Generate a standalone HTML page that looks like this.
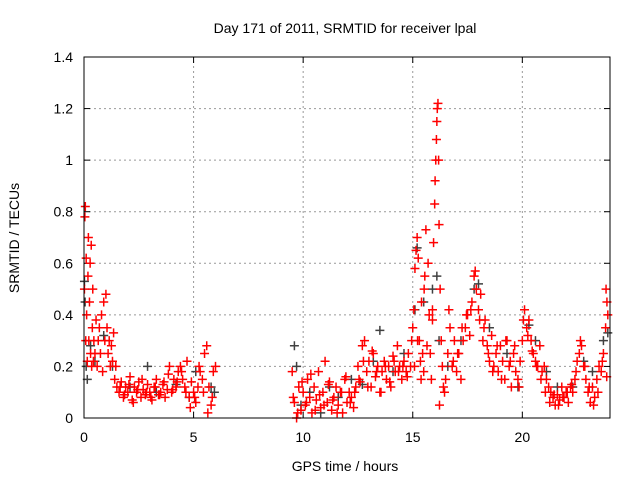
<!DOCTYPE html>
<html><head><meta charset="utf-8">
<style>
html,body{margin:0;padding:0;background:#fff;}
svg{display:block;font-family:"Liberation Sans",sans-serif;}
</style></head>
<body>
<svg id="chart" width="640" height="480">
<rect width="640" height="480" fill="#fff"/>
<text x="345" y="33" font-size="14" text-anchor="middle">Day 171 of 2011, SRMTID for receiver lpal</text>
<text x="345" y="471" font-size="14" text-anchor="middle">GPS time / hours</text>
<text transform="translate(19,238) rotate(-90)" font-size="14" text-anchor="middle">SRMTID / TECUs</text>
<g id="grid"></g>
<g id="ticks"></g>
<g id="marks"></g>
<rect x="84" y="57" width="526" height="361" fill="none" stroke="#000" stroke-width="1"/>
</svg>
<script>
const xTicks=[0,5,10,15,20];
const yTicks=[0,0.2,0.4,0.6,0.8,1,1.2,1.4];
const yTickLabels=["0","0.2","0.4","0.6","0.8","1","1.2","1.4"];
const grayT=[0.02,0.05,0.1,0.15,0.3,0.5,0.9,1.3,2.1,2.9,3.3,4.2,4.8,5.1,5.8,5.95,9.6,9.7,9.9,10.3,10.8,11.2,11.6,12.2,12.7,13.2,13.5,14.1,14.6,15.1,15.2,15.5,15.9,16.1,16.2,16.6,17.2,17.8,18.0,18.5,19.3,19.8,20.3,20.6,21.1,21.6,22.3,22.8,23.2,23.7,23.9];
const grayV=[0.53,0.45,0.2,0.15,0.28,0.22,0.32,0.2,0.12,0.2,0.1,0.13,0.08,0.18,0.12,0.1,0.28,0.2,0.05,0.1,0.02,0.12,0.08,0.15,0.13,0.22,0.34,0.18,0.25,0.42,0.66,0.45,0.5,0.55,0.3,0.2,0.3,0.5,0.52,0.35,0.25,0.12,0.36,0.3,0.18,0.12,0.12,0.22,0.18,0.3,0.33];
const redT=[0.02,0.04,0.06,0.08,0.1,0.12,0.15,0.18,0.2,0.22,0.25,0.28,0.3,0.33,0.35,0.38,0.4,0.43,0.45,0.5,0.55,0.6,0.65,0.7,0.75,0.8,0.85,0.9,0.95,1.0,1.05,1.1,1.15,1.2,1.25,1.3,1.35,1.4,1.45,1.5,
1.6,1.7,1.8,1.9,2.0,2.1,2.2,2.3,2.4,2.5,2.6,2.7,2.8,2.9,3.0,3.1,3.2,3.3,3.4,3.5,3.6,3.7,3.8,3.9,4.0,4.1,4.2,4.3,4.4,4.5,4.6,4.7,4.8,4.9,5.0,5.1,5.2,5.3,5.4,5.5,5.6,5.7,5.8,5.9,6.0,
1.65,1.85,2.05,2.25,2.45,2.65,2.85,3.05,3.25,3.45,3.65,3.85,4.05,4.25,4.45,4.65,4.85,5.05,5.25,5.45,5.65,5.85,
9.5,9.6,9.7,9.8,9.9,10.0,10.1,10.2,10.3,10.4,10.5,10.6,10.7,10.8,10.9,11.0,11.1,11.2,11.3,11.4,11.5,11.6,11.7,11.8,11.9,12.0,12.1,12.2,12.3,12.4,
9.55,9.75,9.95,10.15,10.35,10.55,10.75,10.95,11.15,11.35,11.55,11.75,11.95,12.15,12.35,
12.5,12.6,12.7,12.8,12.9,13.0,13.1,13.2,13.3,13.4,13.5,13.6,13.7,13.8,13.9,14.0,14.1,14.2,14.3,14.4,14.5,14.6,14.7,14.8,14.9,
12.55,12.75,12.95,13.15,13.35,13.55,13.75,13.95,14.15,14.35,14.55,14.75,14.95,
15.0,15.05,15.1,15.15,15.2,15.25,15.3,15.35,15.4,15.45,15.5,15.55,15.6,15.7,15.75,15.8,15.85,15.9,15.95,16.0,16.02,16.05,16.08,16.1,16.12,16.15,16.18,16.2,16.25,16.3,16.35,16.4,16.5,16.6,16.7,16.8,16.9,
15.08,15.22,15.38,15.52,15.65,15.9,16.22,16.45,16.65,16.85,
17.0,17.1,17.2,17.3,17.4,17.5,17.6,17.7,17.8,17.9,18.0,18.1,18.2,18.3,18.4,18.5,18.6,18.7,18.8,18.9,19.0,19.1,19.2,19.3,19.4,19.5,19.6,19.7,19.8,19.9,
17.05,17.25,17.45,17.65,17.85,18.05,18.25,18.45,18.65,18.85,19.05,19.25,19.45,19.65,19.85,
20.0,20.1,20.2,20.3,20.4,20.5,20.6,20.7,20.8,20.9,21.0,21.1,21.2,21.3,21.4,21.5,21.6,21.7,21.8,21.9,22.0,22.1,22.2,22.3,22.4,22.5,22.6,22.7,22.8,22.9,23.0,23.1,23.2,23.3,23.4,23.5,23.6,23.7,23.8,23.9,
20.05,20.25,20.45,20.65,20.85,21.05,21.25,21.45,21.65,21.85,22.05,22.25,22.45,22.65,22.85,23.05,23.25,23.45,23.65,23.85,23.82,23.86];
const redV=[0.5,0.78,0.82,0.3,0.62,0.4,0.22,0.55,0.7,0.3,0.45,0.6,0.25,0.67,0.2,0.35,0.5,0.22,0.3,0.25,0.38,0.2,0.3,0.35,0.25,0.4,0.18,0.45,0.3,0.48,0.35,0.25,0.3,0.2,0.28,0.22,0.33,0.15,0.2,0.12,
0.1,0.14,0.08,0.12,0.1,0.16,0.07,0.12,0.1,0.14,0.08,0.11,0.09,0.13,0.1,0.07,0.12,0.15,0.09,0.1,0.13,0.08,0.11,0.2,0.1,0.15,0.12,0.18,0.2,0.15,0.12,0.22,0.08,0.14,0.1,0.06,0.12,0.18,0.15,0.25,0.28,0.12,0.05,0.18,0.2,
0.12,0.09,0.13,0.06,0.11,0.15,0.1,0.08,0.12,0.09,0.14,0.17,0.11,0.14,0.18,0.1,0.04,0.08,0.2,0.1,0.02,0.08,
0.18,0.06,0.0,0.12,0.03,0.1,0.05,0.15,0.08,0.02,0.12,0.07,0.18,0.04,0.1,0.22,0.06,0.14,0.03,0.08,0.12,0.05,0.1,0.02,0.15,0.06,0.1,0.08,0.04,0.12,
0.08,0.02,0.14,0.06,0.17,0.03,0.09,0.05,0.13,0.07,0.02,0.1,0.16,0.06,0.1,
0.2,0.14,0.28,0.3,0.18,0.22,0.12,0.25,0.16,0.2,0.1,0.18,0.22,0.15,0.2,0.12,0.24,0.18,0.28,0.2,0.15,0.22,0.18,0.25,0.2,
0.15,0.22,0.12,0.26,0.18,0.1,0.2,0.14,0.22,0.18,0.2,0.16,0.3,
0.35,0.42,0.58,0.65,0.7,0.62,0.3,0.22,0.45,0.25,0.18,0.55,0.73,0.6,0.4,0.25,0.15,0.42,0.68,0.83,0.92,1.0,1.08,1.15,1.2,1.22,1.0,0.75,0.5,0.3,0.2,0.12,0.15,0.25,0.35,0.2,0.3,
0.2,0.3,0.15,0.5,0.28,0.38,0.05,0.1,0.42,0.22,
0.18,0.25,0.15,0.3,0.35,0.4,0.32,0.45,0.55,0.5,0.42,0.48,0.3,0.38,0.28,0.22,0.32,0.2,0.25,0.18,0.28,0.22,0.15,0.3,0.2,0.12,0.25,0.18,0.15,0.22,
0.25,0.35,0.4,0.42,0.57,0.38,0.35,0.25,0.18,0.28,0.15,0.3,0.22,0.28,0.12,
0.3,0.42,0.35,0.38,0.3,0.25,0.22,0.2,0.28,0.18,0.2,0.15,0.12,0.1,0.08,0.05,0.09,0.07,0.12,0.08,0.1,0.06,0.12,0.1,0.15,0.22,0.25,0.28,0.2,0.15,0.1,0.06,0.12,0.08,0.15,0.2,0.18,0.25,0.35,0.4,
0.38,0.32,0.26,0.2,0.15,0.1,0.06,0.09,0.05,0.08,0.1,0.13,0.18,0.3,0.2,0.12,0.05,0.1,0.22,0.16,0.5,0.45];
const NS="http://www.w3.org/2000/svg";
const X0=84,X1=610,Y0=418,Y1=57,XMAX=24,YMAX=1.4;
function xs(t){return X0+(X1-X0)*t/XMAX;}
function ys(v){return Y0-(Y0-Y1)*v/YMAX;}
const grid=document.getElementById('grid'),ticks=document.getElementById('ticks'),marks=document.getElementById('marks');
function mk(tag,attrs,parent){const e=document.createElementNS(NS,tag);for(const k in attrs)e.setAttribute(k,attrs[k]);parent.appendChild(e);return e;}
xTicks.forEach(function(t){
  const x=xs(t);
  if(t>0){const g=mk('line',{x1:x,x2:x,y1:Y0,y2:Y1,stroke:'#999','stroke-dasharray':'2,3'},grid);
  
  }
  mk('line',{x1:x,x2:x,y1:Y0,y2:Y0-6,stroke:'#000'},ticks);
  mk('line',{x1:x,x2:x,y1:Y1,y2:Y1+6,stroke:'#000'},ticks);
  const l=mk('text',{x:x,y:Y0+24,'font-size':14,'text-anchor':'middle'},ticks);
  l.textContent=String(t);
  
  
});
yTicks.forEach(function(v,i){
  const y=ys(v);
  if(v>0&&v<YMAX){const g=mk('line',{x1:X0,x2:X1,y1:y,y2:y,stroke:'#999','stroke-dasharray':'2,3'},grid);
  
  }
  mk('line',{x1:X0,x2:X0+6,y1:y,y2:y,stroke:'#000'},ticks);
  mk('line',{x1:X1,x2:X1-6,y1:y,y2:y,stroke:'#000'},ticks);
  const l=mk('text',{x:X0-11,y:y+5,'font-size':14,'text-anchor':'end'},ticks);
  l.textContent=yTickLabels[i];
  
  
});
function plus(t,v,col,name){
  const x=xs(t),y=ys(v);
  const p=mk('path',{d:'M'+(x-4.5)+' '+y+'h9M'+x+' '+(y-4.5)+'v9',stroke:col,'stroke-width':1.5,fill:'none'},marks);
  
  
}
grayT.forEach(function(t,i){plus(t,grayV[i],'#404040','gray-point');});
redT.forEach(function(t,i){plus(t,redV[i],'#ff0000','red-point');});
</script>
</body></html>
